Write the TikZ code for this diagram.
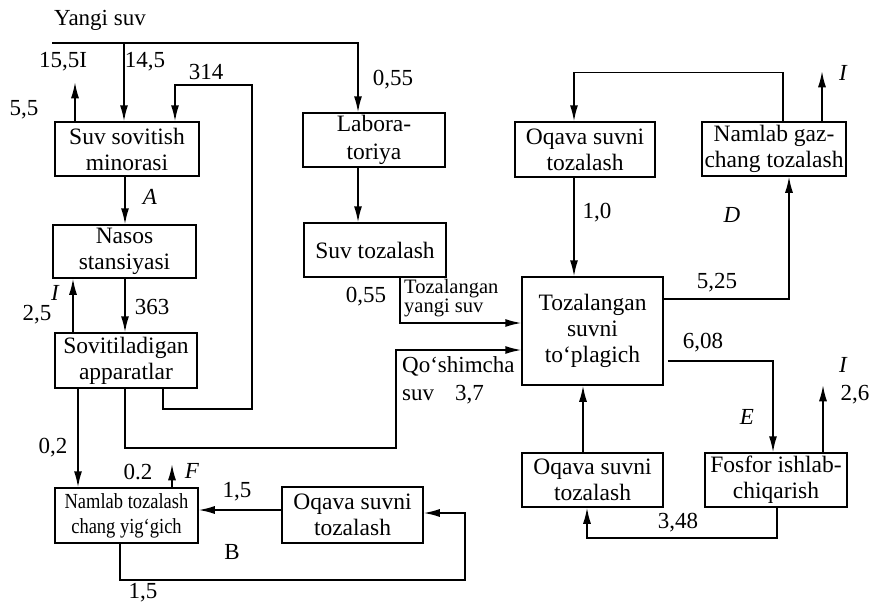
\documentclass[tikz,border=0pt]{standalone}
\usepackage{fontspec}
\setmainfont{Liberation Serif}
\newfontfamily\condfont{Liberation Serif}[FakeStretch=0.86]
\usetikzlibrary{arrows.meta}
\begin{document}
\begin{tikzpicture}[x=1pt,y=-1pt,
  box/.style={draw,line width=1.5pt,inner sep=0pt,align=center,
    font=\fontsize{23.5}{26}\selectfont},
  lbl/.style={inner sep=0pt,font=\fontsize{23}{24}\selectfont},
  ilbl/.style={inner sep=0pt,font=\fontsize{23}{24}\selectfont\itshape},
  arr/.style={line width=1.5pt,-{Latex[length=16pt,width=8pt]}},
  ln/.style={line width=1.5pt}]
\useasboundingbox (0,0) rectangle (869,602);

% boxes
\node[box,minimum width=144pt,minimum height=54pt] (b1) at (127,149) {Suv sovitish\\minorasi};
\node[box,minimum width=143pt,minimum height=53pt] (b2) at (124.5,251.5) {Nasos\\stansiyasi};
\node[box,minimum width=142pt,minimum height=55pt] (b3) at (126,360.5) {Sovitiladigan\\apparatlar};
\node[box,minimum width=143pt,minimum height=55pt,font=\condfont\fontsize{21.5}{25}\selectfont] (b4) at (126.5,515.5) {Namlab tozalash\\chang yig‘gich};
\node[box,minimum width=141pt,minimum height=56pt] (b5) at (352.5,515) {Oqava suvni\\tozalash};
\node[box,minimum width=142pt,minimum height=54pt,font=\fontsize{23.5}{28}\selectfont] (b6) at (374,140) {Labora-\\toriya};
\node[box,minimum width=142pt,minimum height=54pt] (b7) at (375,250) {Suv tozalash};
\node[box,minimum width=140pt,minimum height=55pt] (b8) at (585,149.5) {Oqava suvni\\tozalash};
\node[box,minimum width=144pt,minimum height=54pt] (b9) at (774,149) {Namlab gaz-\\chang tozalash};
\node[box,minimum width=141pt,minimum height=108pt] (b10) at (592.5,331) {Tozalangan\\suvni\\to‘plagich};
\node[box,minimum width=141pt,minimum height=54pt] (b11) at (592.5,480) {Oqava suvni\\tozalash};
\node[box,minimum width=142pt,minimum height=54pt] (b12) at (776,480) {Fosfor ishlab-\\chiqarish};

% inlet line
\coordinate (ys) at (52,43);
\coordinate (t145) at (124,43);
\draw[arr] (ys) -| ([xshift=-16pt]b6.north);
\draw[arr] (t145) -- (t145 |- b1.north);
\draw[arr] ([xshift=-52pt]b1.north) -- ++(0,-39);
\draw[arr] ([xshift=37pt]b3.south) -- ++(0,20) -| (252,85) -| ([xshift=48pt]b1.north);
\draw[arr] ([xshift=-2pt]b1.south) -- ([xshift=-2pt]b1.south |- b2.north);
\draw[arr] ([xshift=0.5pt]b2.south) -- ([xshift=0.5pt]b2.south |- b3.north);
\draw[arr] ([xshift=-53pt]b3.north) -- ([xshift=-53pt]b3.north |- b2.south);
\draw[arr] ([xshift=-48pt]b3.south) -- ([xshift=-48pt]b3.south |- b4.north);
\draw[arr] ([xshift=-1pt]b3.south) |- (396,448) |- ([yshift=-19pt]b10.west);
\draw[arr] ([xshift=45.5pt]b4.north) -- ++(0,-23);
\draw[arr] ([yshift=5pt]b5.west) -- ([yshift=5pt]b5.west -| b4.east);
\draw[arr] ([xshift=-6.5pt]b4.south) |- (465,580) |- ([yshift=2pt]b5.east);
\draw[arr] ([xshift=-16pt]b6.south) -- ([xshift=-16pt]b6.south |- b7.north);
\draw[arr] ([xshift=25pt]b7.south) |- ([yshift=8pt]b10.west);
\draw[arr] ([xshift=9pt]b9.north) -- ++(0,-49) -| ([xshift=-11pt]b8.north);
\draw[arr] ([xshift=-11pt]b8.south) -- ([xshift=-11pt]b8.south |- b10.north);
\draw[arr] ([yshift=32pt]b10.east) -| ([xshift=15pt]b9.south);
\draw[arr] ([xshift=48pt]b9.north) -- ++(0,-50);
\draw[arr] ([xshift=4pt,yshift=-30pt]b10.east) -| ([xshift=-3pt]b12.north);
\draw[arr] ([xshift=47pt]b12.north) -- ++(0,-67);
\draw[arr] ([xshift=-9.5pt]b11.north) -- ([xshift=-9.5pt]b11.north |- b10.south);
\draw[arr] ([xshift=1pt]b12.south) -- ++(0,30) -| ([xshift=-5.5pt]b11.south);

% labels
\node[lbl] (lys) at (100,20) {Yangi suv};
\node[lbl] (l155) at (63,62) {15,5I};
\node[lbl] (l145) at (145,62) {14,5};
\node[lbl] (l314) at (206,72) {314};
\node[lbl] (l55) at (24,110) {5,5};
\node[ilbl] (lA) at (150,197) {A};
\node[lbl] (l363) at (152,307) {363};
\node[ilbl] (lI1) at (55,293) {I};
\node[lbl] (l25) at (37,315) {2,5};
\node[lbl] (l02a) at (53,448) {0,2};
\node[lbl] (l02b) at (138,472) {0.2};
\node[ilbl] (lF) at (192,471) {F};
\node[lbl] (l15a) at (237,492) {1,5};
\node[lbl] (lB) at (232,552) {B};
\node[lbl,anchor=base] (l15b) at (143,598) {1,5};
\node[lbl] (l055a) at (393,80) {0,55};
\node[lbl] (l055b) at (366,297) {0,55};
\node[lbl,anchor=base west,font=\fontsize{20.5}{21}\selectfont] (ltoz) at (404,293) {Tozalangan};
\node[lbl,anchor=base west,font=\fontsize{20.5}{21}\selectfont] (lyangi) at (404,312) {yangi suv};
\node[lbl,anchor=base west] (lqo) at (402,372) {Qo‘shimcha};
\node[lbl,anchor=base west] (lsuv) at (402,400) {suv};
\node[lbl,anchor=base west] (l37) at (455,400) {3,7};
\node[lbl] (l10) at (597,213) {1,0};
\node[ilbl] (lD) at (732,215) {D};
\node[ilbl] (lI2) at (843,73) {I};
\node[lbl] (l525) at (717,283) {5,25};
\node[lbl] (l608) at (703,343) {6,08};
\node[ilbl] (lE) at (747,417) {E};
\node[ilbl] (lI3) at (843,365) {I};
\node[lbl] (l26) at (855,395) {2,6};
\node[lbl] (l348) at (678,523) {3,48};
\end{tikzpicture}
\end{document}
